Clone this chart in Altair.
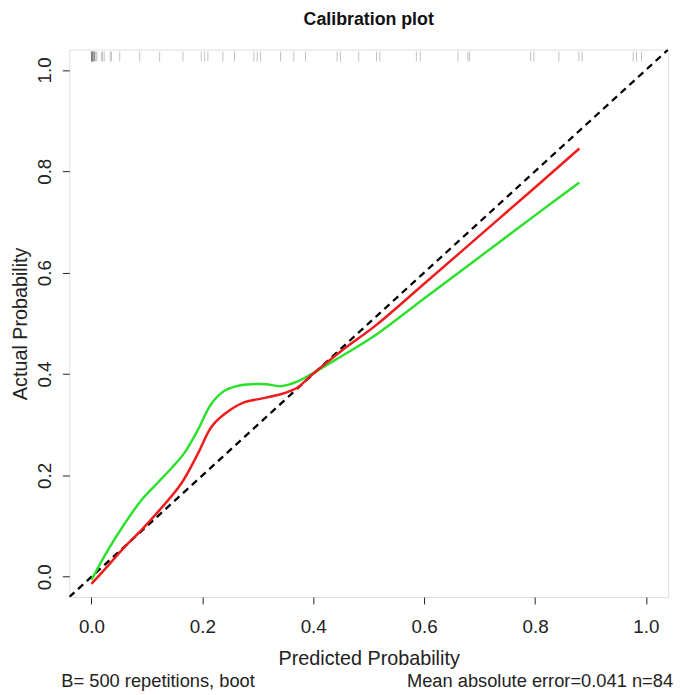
import altair as alt
import pandas as pd

title_text = "Calibration plot"
x_title = "Predicted Probability"
y_title = "Actual Probability"
note_left = "B= 500 repetitions, boot"
note_right = "Mean absolute error=0.041 n=84"

# bias-corrected (red) curve
red_pred = [0.0, 0.030, 0.060, 0.090, 0.120, 0.162, 0.192, 0.216, 0.240, 0.275, 0.299, 0.341, 0.371, 0.395, 0.45, 0.514, 0.60, 0.70, 0.80, 0.88]
red_act = [-0.014, 0.022, 0.059, 0.092, 0.128, 0.184, 0.243, 0.295, 0.321, 0.344, 0.350, 0.360, 0.373, 0.396, 0.445, 0.497, 0.578, 0.673, 0.768, 0.845]

# apparent (green) curve
green_pred = [0.0, 0.030, 0.060, 0.090, 0.120, 0.145, 0.168, 0.192, 0.216, 0.240, 0.265, 0.290, 0.315, 0.341, 0.371, 0.395, 0.44, 0.514, 0.60, 0.70, 0.80, 0.88]
green_act = [-0.006, 0.053, 0.105, 0.151, 0.186, 0.215, 0.245, 0.290, 0.341, 0.367, 0.377, 0.380, 0.380, 0.376, 0.385, 0.399, 0.428, 0.478, 0.549, 0.631, 0.713, 0.778]

# ideal line
ideal = [-0.04, 1.04]

# rug of predicted probabilities
rug_pred = [0.000, 0.000, 0.000, 0.001, 0.001, 0.002, 0.002, 0.003, 0.004, 0.005, 0.005,
            0.006, 0.008, 0.010, 0.018, 0.020, 0.023, 0.034, 0.036, 0.051, 0.087, 0.123,
            0.165, 0.198, 0.204, 0.210, 0.237, 0.258, 0.293, 0.299, 0.305, 0.341, 0.365,
            0.386, 0.443, 0.449, 0.482, 0.514, 0.520, 0.586, 0.593, 0.661, 0.679, 0.682,
            0.792, 0.798, 0.843, 0.879, 0.885, 0.977, 0.983, 0.992]

tick_values = [0.0, 0.2, 0.4, 0.6, 0.8, 1.0]

FONT = "Liberation Sans"
W, H = 606, 554

xs = alt.Scale(domain=[-0.04, 1.04], nice=False, zero=False)
ys = alt.Scale(domain=[-0.04, 1.04], nice=False, zero=False)

xaxis = alt.Axis(values=tick_values, format=".1f", title=x_title, grid=False, domain=False,
                 tickSize=7, tickColor="#222", labelPadding=14, titlePadding=12,
                 labelFontSize=19, titleFontSize=20, labelFont=FONT, titleFont=FONT,
                 titleFontWeight="normal", labelColor="#222", titleColor="#222")
yaxis = alt.Axis(values=tick_values, format=".1f", title=y_title, grid=False, domain=False,
                 tickSize=7, tickColor="#222", labelPadding=8, titlePadding=5,
                 labelAngle=270, labelAlign="center", labelBaseline="bottom",
                 labelFontSize=19, titleFontSize=20, labelFont=FONT, titleFont=FONT,
                 titleFontWeight="normal", labelColor="#222", titleColor="#222")

xenc = alt.X("x:Q", scale=xs, axis=xaxis)
yenc = alt.Y("y:Q", scale=ys, axis=yaxis)

ideal_df = pd.DataFrame({"x": ideal, "y": ideal})
red_df = pd.DataFrame({"x": red_pred, "y": red_act})
green_df = pd.DataFrame({"x": green_pred, "y": green_act})
rug_df = pd.DataFrame({"x": rug_pred})

diag = alt.Chart(ideal_df).mark_line(color="black", strokeWidth=2.3, strokeDash=[7, 5], clip=True).encode(x=xenc, y=yenc)
rug = alt.Chart(rug_df).mark_rule(color="#666", opacity=0.4, strokeWidth=1).encode(
    x=xenc, y=alt.value(2), y2=alt.value(12))
green = alt.Chart(green_df).mark_line(color="#2ee02e", strokeWidth=2.5, interpolate="catmull-rom").encode(x=xenc, y=yenc)
red = alt.Chart(red_df).mark_line(color="#ee1c1c", strokeWidth=2.5, interpolate="catmull-rom").encode(x=xenc, y=yenc)

title_mark = alt.Chart(pd.DataFrame({"t": [title_text]})).mark_text(
    align="center", baseline="alphabetic", fontSize=18, font=FONT, fontWeight="bold", color="#111").encode(
    x=alt.value(W / 2), y=alt.value(-25), text="t:N")
left_note = alt.Chart(pd.DataFrame({"t": [note_left]})).mark_text(
    align="left", baseline="alphabetic", fontSize=18.5, font=FONT, color="#222").encode(
    x=alt.value(-8), y=alt.value(645), text="t:N")
right_note = alt.Chart(pd.DataFrame({"t": [note_right]})).mark_text(
    align="right", baseline="alphabetic", fontSize=18.5, font=FONT, color="#222").encode(
    x=alt.value(611), y=alt.value(645), text="t:N")

chart = alt.layer(diag, rug, green, red, title_mark, left_note, right_note).properties(
    width=W, height=H,
    autosize=alt.AutoSizeParams(type="none"),
    padding={"left": 62, "top": 38, "right": 9, "bottom": 95},
).configure_view(stroke="#222", strokeWidth=1.2).configure(background="white")

chart.save("out.html", embed_options={"renderer": "svg", "actions": False})
